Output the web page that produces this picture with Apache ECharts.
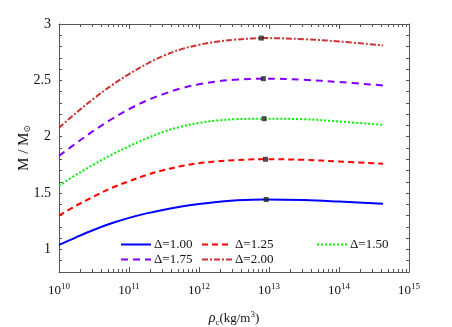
<!DOCTYPE html>
<html>
<head>
<meta charset="utf-8">
<script src="https://cdn.jsdelivr.net/npm/echarts@6/dist/echarts.min.js"></script>
<style>
  html, body { margin: 0; padding: 0; background: #fff; }
  #chart { width: 452px; height: 327px; }
</style>
</head>
<body>
<div id="chart"></div>
<script>
// log10 of central density (kg/m^3)
const logRho = [10, 10.25, 10.5, 10.75, 11, 11.25, 11.5, 11.75, 12, 12.25, 12.5, 12.93, 13.5, 14, 14.63]

const mass100 = [1.04, 1.11, 1.175, 1.232, 1.28, 1.32, 1.353, 1.381, 1.403, 1.421, 1.434, 1.443, 1.438, 1.425, 1.405]
const mass125 = [1.30, 1.39, 1.47, 1.545, 1.605, 1.66, 1.705, 1.74, 1.765, 1.781, 1.792, 1.80, 1.795, 1.78, 1.76]
const mass150 = [1.565, 1.665, 1.755, 1.84, 1.915, 1.985, 2.045, 2.09, 2.122, 2.143, 2.155, 2.16, 2.155, 2.135, 2.105]
const mass175 = [1.83, 1.945, 2.055, 2.155, 2.245, 2.32, 2.38, 2.43, 2.465, 2.49, 2.505, 2.515, 2.505, 2.485, 2.455]
const mass200 = [2.08, 2.215, 2.34, 2.455, 2.555, 2.645, 2.72, 2.777, 2.815, 2.843, 2.86, 2.875, 2.865, 2.845, 2.81]

// maximum-mass points
const peakLogRho = [12.96, 12.95, 12.93, 12.92, 12.89]
const peakMass = [1.443, 1.80, 2.16, 2.515, 2.875]

const seriesNames = ['Δ=1.00', 'Δ=1.25', 'Δ=1.50', 'Δ=1.75', 'Δ=2.00']

const serif = 'Liberation Serif'
const axisColor = '#555'

// minor ticks at 2..9 x 10^n
const minorX = []
for (let d = 10; d < 15; d++) {
  for (let k = 2; k <= 9; k++) minorX.push(d + Math.log10(k))
}

const zip = (xs, ys) => xs.map((x, i) => [x, ys[i]])

const styles = [
  { color: '#0000ff', type: 'solid', width: 2 },
  { color: '#ff0000', type: [6, 4], width: 2 },
  { color: '#00ee00', type: [2, 2], width: 2 },
  { color: '#8000ff', type: [7, 5], width: 2 },
  { color: '#cc3333', type: [6, 2, 2, 2], width: 2 }
]
const masses = [mass100, mass125, mass150, mass175, mass200]

const series = masses.map((m, i) => ({
  name: seriesNames[i],
  type: 'line',
  data: zip(logRho, m),
  smooth: 0.4,
  symbol: 'none',
  lineStyle: styles[i],
  itemStyle: { color: styles[i].color },
  z: 2
}))
series.push({
  type: 'scatter',
  data: zip(peakLogRho, peakMass),
  symbol: 'rect',
  symbolSize: 5,
  itemStyle: { color: '#222' },
  z: 5
})

const legendPos = [[120, 238], [201, 238], [316, 238], [120, 253], [201, 253]]
const legends = seriesNames.map((n, i) => ({
  data: [n],
  left: legendPos[i][0],
  top: legendPos[i][1],
  padding: 0,
  itemWidth: 30,
  itemHeight: 14,
  itemStyle: { opacity: 0 },
  textStyle: { fontFamily: serif, fontSize: 13, color: '#111', padding: [0, 0, 0, -2] }
}))

const xBase = {
  type: 'value', min: 10, max: 15, interval: 1,
  axisLine: { show: true, lineStyle: { color: axisColor } },
  splitLine: { show: false }
}

const chart = echarts.init(document.getElementById('chart'))
chart.setOption({
  animation: false,
  grid: { left: 59, right: 43, top: 24, bottom: 55, outerBoundsMode: 'none' },
  legend: legends,
  xAxis: [
    Object.assign({}, xBase, {
      position: 'bottom',
      axisTick: { inside: true, length: 5, lineStyle: { color: axisColor } },
      axisLabel: {
        margin: 10,
        formatter: v => '{b|10}{s|' + v + '}',
        rich: {
          b: { fontFamily: serif, fontSize: 13, color: '#111' },
          s: { fontFamily: serif, fontSize: 9, color: '#111', padding: [0, 0, 8, 0] }
        }
      },
      name: '{i|ρ}{c|c}{a|(kg/m}{p|3}{a|)}',
      nameLocation: 'middle',
      nameGap: 38,
      nameMoveOverlap: false,
      nameTextStyle: {
        rich: {
          i: { fontFamily: serif, fontStyle: 'italic', fontSize: 14, color: '#111' },
          c: { fontFamily: serif, fontSize: 9, color: '#111', padding: [8, 0, 0, 0] },
          a: { fontFamily: serif, fontSize: 13, color: '#111' },
          p: { fontFamily: serif, fontSize: 9, color: '#111', padding: [0, 0, 8, 0] }
        }
      }
    }),
    Object.assign({}, xBase, {
      position: 'bottom',
      axisLine: { show: false },
      axisLabel: { show: false },
      axisTick: { inside: true, length: 3, customValues: minorX, lineStyle: { color: axisColor } }
    }),
    Object.assign({}, xBase, {
      position: 'top',
      axisLabel: { show: false },
      axisTick: { inside: true, length: 5, lineStyle: { color: axisColor } }
    }),
    Object.assign({}, xBase, {
      position: 'top',
      axisLine: { show: false },
      axisLabel: { show: false },
      axisTick: { inside: true, length: 3, customValues: minorX, lineStyle: { color: axisColor } }
    })
  ],
  yAxis: [
    {
      type: 'value', min: 0.8, max: 3, interval: 0.1, position: 'left',
      axisLine: { show: true, lineStyle: { color: axisColor } },
      axisTick: { inside: true, length: 3, lineStyle: { color: axisColor } },
      splitLine: { show: false },
      axisLabel: {
        fontFamily: serif, fontSize: 14, color: '#111', margin: 8,
        formatter: v => Math.abs(v * 2 - Math.round(v * 2)) < 1e-6 ? String(+v.toFixed(1)) : ''
      },
      name: '{a|M / M}{s|⊙}',
      nameLocation: 'middle',
      nameRotate: 90,
      nameGap: 27,
      nameMoveOverlap: false,
      nameTextStyle: {
        rich: {
          a: { fontFamily: serif, fontSize: 15, color: '#111' },
          s: { fontFamily: 'DejaVu Serif', fontSize: 9, color: '#111', padding: [6, 0, 0, 0] }
        }
      }
    },
    {
      type: 'value', min: 0.8, max: 3, interval: 0.1, position: 'right',
      axisLine: { show: true, lineStyle: { color: axisColor } },
      axisTick: { inside: true, length: 3, lineStyle: { color: axisColor } },
      splitLine: { show: false },
      axisLabel: { show: false }
    }
  ],
  series: series
})
</script>
</body>
</html>
